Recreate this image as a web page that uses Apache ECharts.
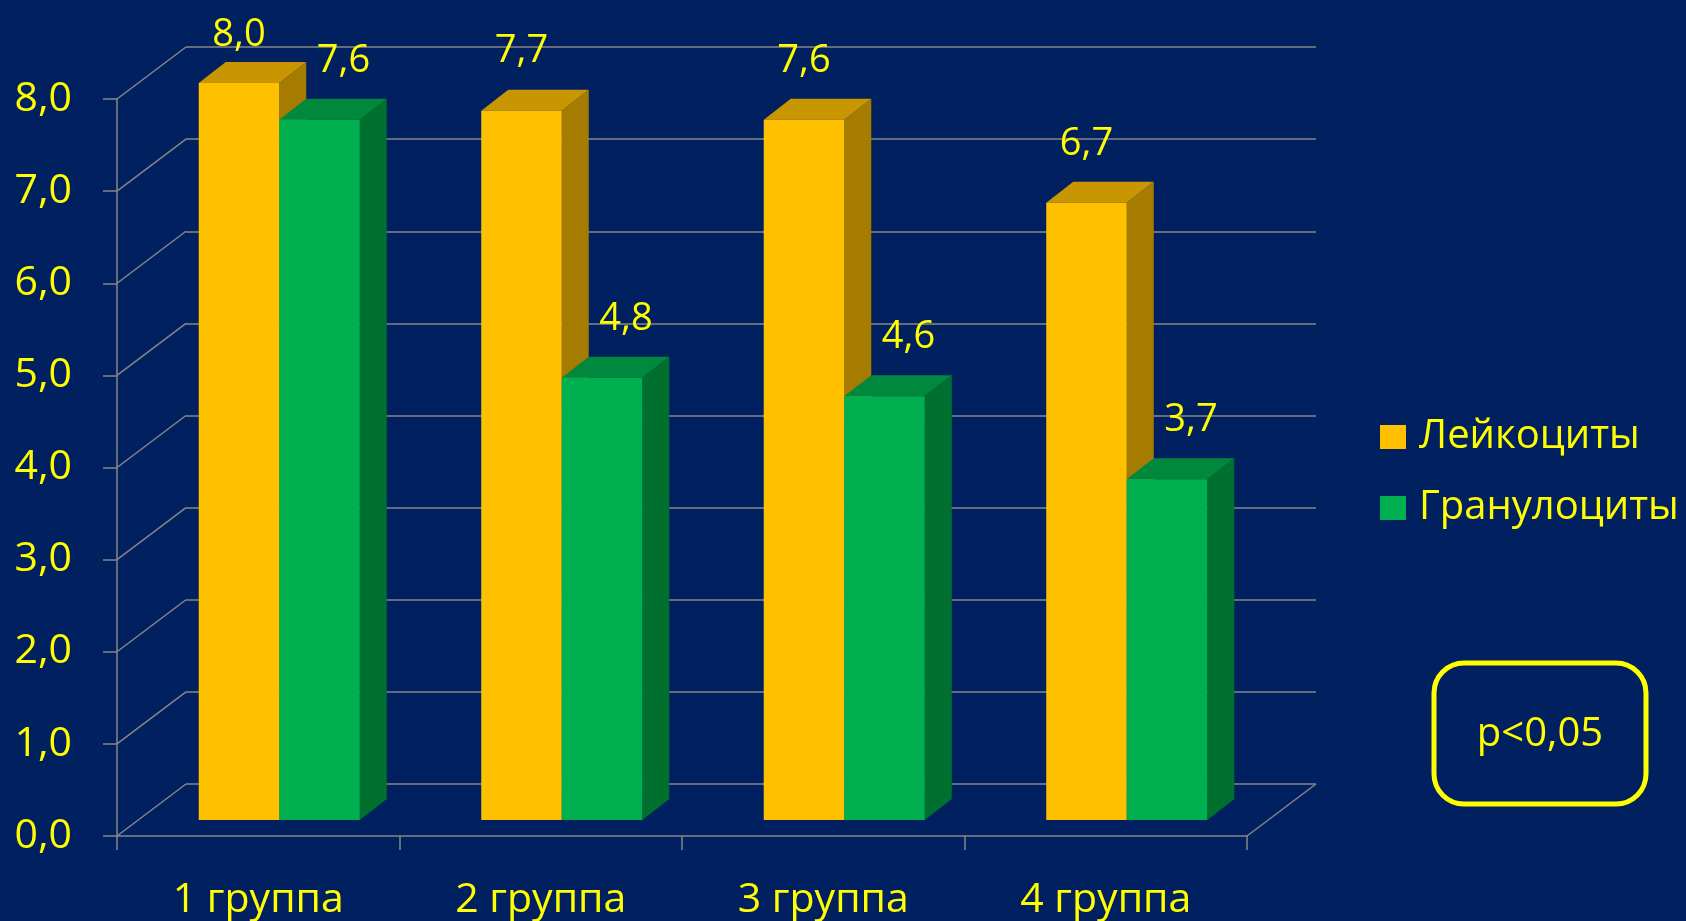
<!DOCTYPE html>
<html>
<head>
<meta charset="utf-8">
<script src="https://cdn.jsdelivr.net/npm/echarts@6/dist/echarts.min.js"></script>
<style>
  html, body { margin: 0; padding: 0; background: #002060; }
  #chart { width: 1686px; height: 921px; }
</style>
</head>
<body>
<div id="chart"></div>
<script>
const categories = ["1 группа", "2 группа", "3 группа", "4 группа"];
const leukocytes = [8.0, 7.7, 7.6, 6.7];
const granulocytes = [7.6, 4.8, 4.6, 3.7];
const yTicks = [0, 1, 2, 3, 4, 5, 6, 7, 8];
const seriesNames = ["Лейкоциты", "Гранулоциты"];

const FONT = "'Open Sans', 'Noto Sans', sans-serif";
const YELLOW = "#FFFF00";
const GRID_LINE = "#878787";
// pseudo-3d offsets (px)
const WALL_DX = 69, WALL_DY = -52;   // front plane -> back wall
const BAR_DX = 21, BAR_DY = -16;     // front plane -> bar front face
const DEPTH_DX = 27, DEPTH_DY = -21; // bar front face -> bar back face

const fmt = v => v.toFixed(1).replace(".", ",");

function barRenderer(colors, side, labelShift) {
  return function (params, api) {
    const i = api.value(0);
    const v = api.value(1);
    const top = api.coord([i, v]);
    const base = api.coord([i, 0]);
    const w = api.size([1, 0])[0] * 0.285;
    const x0 = top[0] + BAR_DX + (side < 0 ? -w : 0);
    const x1 = x0 + w;
    const yt = top[1] + BAR_DY;
    const yb = base[1] + BAR_DY;
    return {
      type: "group",
      children: [
        {
          type: "polygon",
          shape: { points: [[x1, yt], [x1 + DEPTH_DX, yt + DEPTH_DY], [x1 + DEPTH_DX, yb + DEPTH_DY], [x1, yb]] },
          style: { fill: colors.side }
        },
        {
          type: "polygon",
          shape: { points: [[x0, yt], [x0 + DEPTH_DX, yt + DEPTH_DY], [x1 + DEPTH_DX, yt + DEPTH_DY], [x1, yt]] },
          style: { fill: colors.top }
        },
        {
          type: "rect",
          shape: { x: x0, y: yt, width: w, height: yb - yt },
          style: { fill: colors.front }
        },
        {
          type: "text",
          style: {
            text: fmt(v),
            x: (x0 + x1) / 2 + labelShift,
            y: Math.max(yt + DEPTH_DY - 38, 35),
            fill: YELLOW,
            font: "38px " + FONT,
            align: "center",
            verticalAlign: "middle"
          }
        }
      ]
    };
  };
}

function wallRenderer(params, api) {
  const cs = params.coordSys;
  const v = api.value(0);
  const p = api.coord([0, v]);
  const lines = [
    {
      type: "line",
      shape: { x1: cs.x, y1: p[1], x2: cs.x + WALL_DX, y2: p[1] + WALL_DY },
      style: { stroke: GRID_LINE, lineWidth: 1.5 }
    }
  ];
  if (v === 0) {
    lines.push({
      type: "line",
      shape: { x1: cs.x + cs.width, y1: p[1], x2: cs.x + cs.width + WALL_DX, y2: p[1] + WALL_DY },
      style: { stroke: GRID_LINE, lineWidth: 1.5 }
    });
  }
  return { type: "group", children: lines };
}

const chart = echarts.init(document.getElementById("chart"));

const option = {
  backgroundColor: "#002060",
  animation: false,
  textStyle: { fontFamily: FONT },
  legend: {
    data: seriesNames,
    orient: "vertical",
    left: 1375,
    top: 408,
    icon: "rect",
    itemWidth: 26,
    itemHeight: 24,
    itemGap: 23,
    textStyle: { color: YELLOW, fontSize: 40, lineHeight: 48, fontFamily: FONT, padding: [0, 0, 0, 8] }
  },
  grid: [
    { left: 117, top: 99, width: 1130, height: 737, outerBoundsMode: "none" },
    { left: 186, top: 47, width: 1130, height: 737, outerBoundsMode: "none" }
  ],
  xAxis: [
    {
      type: "category",
      gridIndex: 0,
      data: categories,
      axisLine: { lineStyle: { color: GRID_LINE, width: 1.5 } },
      axisTick: { show: true, length: 14, lineStyle: { color: GRID_LINE, width: 1.5 } },
      axisLabel: { color: YELLOW, fontSize: 41, fontFamily: FONT, margin: 44 }
    },
    {
      type: "category",
      gridIndex: 1,
      data: categories,
      show: false
    }
  ],
  yAxis: [
    {
      type: "value",
      gridIndex: 0,
      min: 0,
      max: 8,
      interval: 1,
      axisLine: { show: true, lineStyle: { color: GRID_LINE, width: 1.5 } },
      axisTick: { show: true, length: 14, lineStyle: { color: GRID_LINE, width: 1.5 } },
      splitLine: { show: false },
      axisLabel: { color: YELLOW, fontSize: 41, fontFamily: FONT, margin: 45, formatter: fmt }
    },
    {
      type: "value",
      gridIndex: 1,
      min: 0,
      max: 8,
      interval: 1,
      axisLine: { show: false },
      axisTick: { show: false },
      axisLabel: { show: false },
      splitLine: { show: true, lineStyle: { color: GRID_LINE, width: 1.5 } }
    }
  ],
  series: [
    {
      name: "walls",
      type: "custom",
      xAxisIndex: 0,
      yAxisIndex: 0,
      z: 1,
      silent: true,
      clip: false,
      data: yTicks.map(v => [v]),
      encode: { y: 0 },
      renderItem: wallRenderer
    },
    {
      name: seriesNames[0],
      type: "custom",
      xAxisIndex: 0,
      yAxisIndex: 0,
      z: 2,
      clip: false,
      itemStyle: { color: "#FFC000" },
      data: leukocytes.map((v, i) => [i, v]),
      encode: { x: 0, y: 1 },
      renderItem: barRenderer({ front: "#FFC000", top: "#C89600", side: "#A67C00" }, -1, 0)
    },
    {
      name: seriesNames[1],
      type: "custom",
      xAxisIndex: 0,
      yAxisIndex: 0,
      z: 2,
      clip: false,
      itemStyle: { color: "#00B050" },
      data: granulocytes.map((v, i) => [i, v]),
      encode: { x: 0, y: 1 },
      renderItem: barRenderer({ front: "#00B050", top: "#00883C", side: "#00702E" }, 1, 24)
    }
  ],
  graphic: [
    {
      type: "rect",
      x: 1434,
      y: 663,
      shape: { width: 212, height: 141, r: 30 },
      style: { fill: "none", stroke: YELLOW, lineWidth: 5 }
    },
    {
      type: "text",
      x: 1540,
      y: 735,
      style: {
        text: "p<0,05",
        fill: YELLOW,
        font: "40px " + FONT,
        align: "center",
        verticalAlign: "middle"
      }
    }
  ]
};

chart.setOption(option);
</script>
</body>
</html>
